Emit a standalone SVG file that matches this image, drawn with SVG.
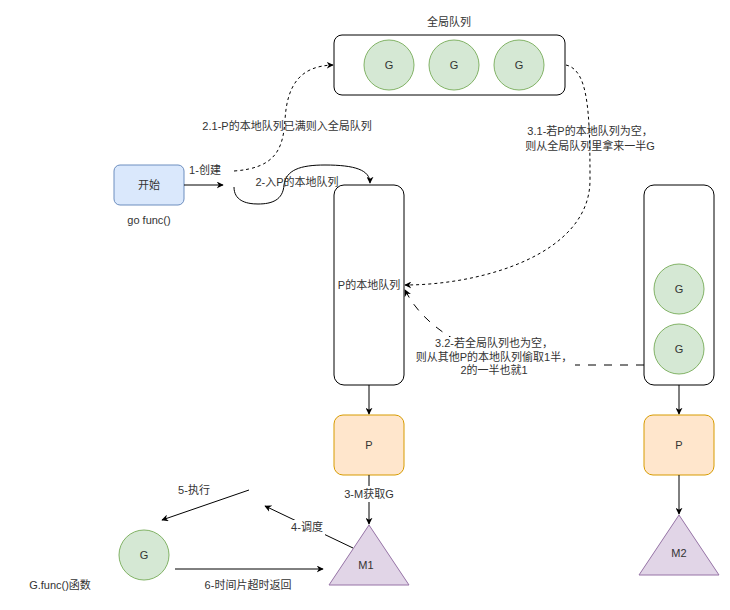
<svg xmlns="http://www.w3.org/2000/svg" width="730" height="610" viewBox="0 0 730 610">
<defs>
<marker id="arr" viewBox="0 0 10 10" refX="9" refY="5" markerWidth="7" markerHeight="7" markerUnits="userSpaceOnUse" orient="auto">
<path d="M0,0 L10,5 L0,10 L3,5 Z" fill="#000"/>
</marker>
</defs>
<style>
text{font-family:"Liberation Sans","Noto Sans CJK SC",sans-serif;font-size:11px;fill:#333;text-anchor:middle;dominant-baseline:central}
.box{fill:#fff;stroke:#000;stroke-width:1}
.g{fill:#d5e8d4;stroke:#82b366;stroke-width:1}
.p{fill:#ffe6cc;stroke:#d79b00;stroke-width:1}
.m{fill:#e1d5e7;stroke:#9673a6;stroke-width:1}
.line{fill:none;stroke:#000;stroke-width:1}
.dash{fill:none;stroke:#000;stroke-width:1;stroke-dasharray:3 3}
.ldash{fill:none;stroke:#000;stroke-width:1;stroke-dasharray:8 8}
.lbl{fill:#fff}
</style>
<rect width="730" height="610" fill="#fff"/>

<g id="global-queue">
<rect class="box" x="334" y="35" width="231" height="60" rx="8"/>
<text x="449" y="22">全局队列</text>
<circle class="g" cx="389" cy="65" r="25"/><text x="389" y="65">G</text>
<circle class="g" cx="454" cy="65" r="25"/><text x="454" y="65">G</text>
<circle class="g" cx="519" cy="65" r="25"/><text x="519" y="65">G</text>
</g>

<g id="start">
<rect x="114" y="165" width="70" height="40" rx="6" fill="#dae8fc" stroke="#6c8ebf"/>
<text x="149" y="185">开始</text>
<text x="149" y="220">go func()</text>
</g>

<g id="local-queue-1">
<rect class="box" x="334" y="185" width="70" height="200" rx="10"/>
<text x="369" y="285">P的本地队列</text>
</g>

<g id="local-queue-2">
<rect class="box" x="644" y="185" width="70" height="200" rx="10"/>
<circle class="g" cx="679" cy="289" r="25"/><text x="679" y="289">G</text>
<circle class="g" cx="679" cy="349" r="25"/><text x="679" y="349">G</text>
</g>

<g id="p1">
<rect class="p" x="334" y="415" width="70" height="60" rx="9"/>
<text x="369" y="445">P</text>
</g>
<g id="p2">
<rect class="p" x="644" y="415" width="70" height="60" rx="9"/>
<text x="679" y="445">P</text>
</g>

<g id="m1">
<polygon class="m" points="369,525 409,585 329,585"/>
<text x="366" y="565">M1</text>
</g>
<g id="m2">
<polygon class="m" points="679,515 719,575 639,575"/>
<text x="679" y="553">M2</text>
</g>

<g id="g-func">
<circle class="g" cx="144" cy="555" r="25"/><text x="144" y="555">G</text>
<text x="60" y="585">G.func()函数</text>
</g>

<g id="connectors">
<line class="line" x1="184" y1="185" x2="223" y2="185" marker-end="url(#arr)"/>
<text x="205" y="170">1-创建</text>

<path class="dash" d="M234,171 C275,168 283,150 285,120 C287,85 300,66 333,65" marker-end="url(#arr)"/>
<text x="287" y="126">2.1-P的本地队列已满则入全局队列</text>

<path class="line" d="M234,187 C234,200 245,204 258,204 C272,204 283,200 284,185 C286,170 300,165 325,165 C355,165 370,170 370,183" marker-end="url(#arr)"/>
<text x="297" y="182">2-入P的本地队列</text>

<path class="dash" d="M566,65 C588,70 590,110 590,180 C590,255 480,285 405,285" marker-end="url(#arr)"/>
<text x="590" y="131">3.1-若P的本地队列为空，</text>
<text x="590" y="146">则从全局队列里拿来一半G</text>

<path class="ldash" d="M644,365 L560,365 C480,365 425,330 405,290" marker-end="url(#arr)"/>
<rect class="lbl" x="426" y="337" width="149" height="40"/>
<text x="494" y="343">3.2-若全局队列也为空，</text>
<text x="494" y="357">则从其他P的本地队列偷取1半，</text>
<text x="494" y="370">2的一半也就1</text>

<line class="line" x1="369" y1="385" x2="369" y2="414" marker-end="url(#arr)"/>
<line class="line" x1="679" y1="385" x2="679" y2="414" marker-end="url(#arr)"/>
<line class="line" x1="679" y1="475" x2="679" y2="514" marker-end="url(#arr)"/>

<line class="line" x1="369" y1="475" x2="369" y2="524" marker-end="url(#arr)"/>
<rect class="lbl" x="340" y="486" width="58" height="16"/>
<text x="369" y="494">3-M获取G</text>

<line class="line" x1="353" y1="548" x2="265" y2="506" marker-end="url(#arr)"/>
<rect class="lbl" x="289" y="520" width="36" height="15"/>
<text x="307" y="527">4-调度</text>

<line class="line" x1="249" y1="490" x2="162" y2="520" marker-end="url(#arr)"/>
<text x="194" y="490">5-执行</text>

<line class="line" x1="175" y1="569" x2="323" y2="569" marker-end="url(#arr)"/>
<text x="248" y="585">6-时间片超时返回</text>
</g>
</svg>
